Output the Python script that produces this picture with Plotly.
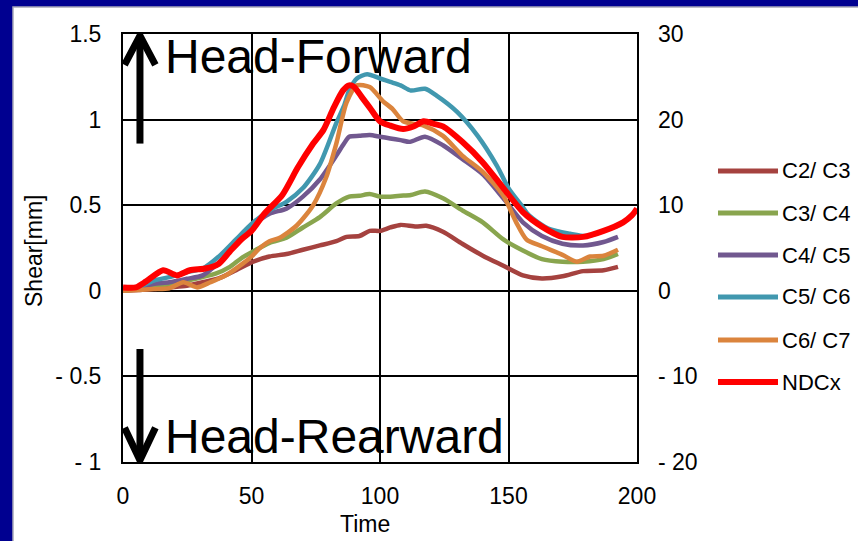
import plotly.graph_objects as go

# ---- data -------------------------------------------------------------
c23_t = [0, 6, 12, 18, 24.8, 31, 37.7, 44, 50.6, 57, 63.6, 70, 76.6, 83, 87, 92, 96, 100, 104, 108,
         114, 118, 124.5, 132, 140, 148, 155.6, 163, 171, 179, 187, 192.6]
c23_v = [0, 0.005, 0.01, 0.02, 0.03, 0.05, 0.075, 0.12, 0.17, 0.2, 0.215, 0.24, 0.265, 0.29, 0.315, 0.32,
         0.35, 0.35, 0.37, 0.385, 0.375, 0.38, 0.345, 0.275, 0.205, 0.146, 0.09, 0.072, 0.085, 0.115, 0.12, 0.14]

c34_t = [0, 6, 12, 18, 25, 31, 36, 41.6, 46, 50.6, 57, 63.6, 70, 76.6, 83, 88, 92, 96, 100, 104, 108,
         112, 117.5, 124.5, 132, 140, 148, 155.6, 163, 171, 179, 187, 192.6]
c34_v = [0, 0.01, 0.025, 0.04, 0.06, 0.08, 0.1, 0.14, 0.19, 0.23, 0.28, 0.31, 0.37, 0.43, 0.51, 0.55,
         0.555, 0.565, 0.55, 0.55, 0.555, 0.56, 0.58, 0.54, 0.47, 0.4, 0.3, 0.235, 0.185, 0.17, 0.17, 0.185, 0.215]

c45_t = [0, 6, 11.8, 18, 24.8, 31, 37.7, 44, 50.6, 57, 63.6, 70, 76.6, 83, 86, 88, 92, 96, 100, 104,
         108, 111.7, 117.5, 124.5, 132, 140, 148, 155.6, 163, 171, 179, 187, 192.6]
c45_v = [0.01, 0.02, 0.04, 0.05, 0.07, 0.09, 0.17, 0.27, 0.38, 0.45, 0.48, 0.55, 0.65, 0.79, 0.86, 0.9,
         0.905, 0.91, 0.9, 0.89, 0.88, 0.87, 0.9, 0.85, 0.77, 0.68, 0.54, 0.4, 0.32, 0.275, 0.265, 0.285, 0.315]

c56_t = [0, 6, 12, 18, 25, 31, 38, 44, 50, 57, 63.6, 70, 76.6, 83, 86, 88, 91, 95, 100, 104, 108, 112,
         117.5, 122, 130, 138, 145.5, 150, 155, 158, 166, 174, 180.5, 187, 192.6]
c56_v = [0.015, 0.02, 0.06, 0.08, 0.11, 0.13, 0.21, 0.3, 0.39, 0.47, 0.52, 0.6, 0.74, 0.98, 1.08, 1.17,
         1.24, 1.265, 1.24, 1.22, 1.2, 1.17, 1.18, 1.14, 1.045, 0.905, 0.73, 0.6, 0.5, 0.44, 0.36, 0.333,
         0.32, 0.35, 0.38]

c67_t = [0, 6, 12, 18, 23.5, 28.8, 34, 40, 46.7, 50, 53.3, 57, 61, 67.5, 74, 79, 83, 87, 91, 96, 101,
         105, 109, 117, 124.5, 132, 140, 148, 153, 157, 163, 171, 176.6, 181.7, 187, 192.6]
c67_v = [0, 0.005, 0.01, 0.015, 0.05, 0.02, 0.05, 0.09, 0.16, 0.2, 0.25, 0.29, 0.31, 0.38, 0.5, 0.66,
         0.86, 1.1, 1.2, 1.19, 1.11, 1.06, 0.99, 0.965, 0.905, 0.79, 0.695, 0.555, 0.4, 0.3, 0.26, 0.21,
         0.17, 0.2, 0.205, 0.24]

ndc_t = [0, 5, 9, 15.6, 21, 26, 32, 37, 41.6, 46, 50, 55, 62, 68, 74, 78, 82, 85.6, 88, 90, 93, 96,
         100, 104, 109, 113, 117, 121, 124.5, 132, 140, 148, 155.6, 163, 171, 179, 187, 194.6, 198, 200]
ndc_v = [0.4, 0.4, 1.1, 2.4, 1.8, 2.4, 2.6, 3.1, 4.6, 6.0, 7.0, 9.0, 11.2, 14.4, 17.2, 18.8, 21.4, 23.4,
         24.0, 23.8, 22.6, 21.4, 19.8, 19.3, 18.9, 19.2, 19.8, 19.5, 19.2, 17.4, 15.0, 12.0, 9.2, 7.5,
         6.3, 6.3, 7.0, 8.0, 8.8, 9.6]

names = ["C2/ C3", "C3/ C4", "C4/ C5", "C5/ C6", "C6/ C7", "NDCx"]
colors = ["#A5423F", "#89A54E", "#71588F", "#4198AF", "#DB843D", "#FF0000"]

left_ticks = [-1, -0.5, 0, 0.5, 1, 1.5]
left_text = ["- 1", "- 0.5", "0", "0.5", "1", "1.5"]
right_ticks = [-20, -10, 0, 10, 20, 30]
right_text = ["- 20", "- 10", "0", "10", "20", "30"]
x_ticks = [0, 50, 100, 150, 200]

FONT = "Arial, Liberation Sans, sans-serif"
TICK_SIZE = 23

# ---- figure -----------------------------------------------------------
fig = go.Figure()
series = [(c23_t, c23_v), (c34_t, c34_v), (c45_t, c45_v), (c56_t, c56_v), (c67_t, c67_v)]
for (t, v), name, col in zip(series, names[:5], colors[:5]):
    fig.add_trace(go.Scatter(x=t, y=v, mode="lines", name=name,
                             line=dict(color=col, width=4.5, shape="spline", smoothing=0.7),
                             showlegend=False))
fig.add_trace(go.Scatter(x=ndc_t, y=ndc_v, mode="lines", name=names[5], yaxis="y2",
                         line=dict(color=colors[5], width=6, shape="spline", smoothing=0.7),
                         showlegend=False))

W, H = 858, 541
L, R, T, B = 123, 637, 34, 462


def px(x):
    return (x - L) / (R - L)


def py(y):
    return (B - y) / (B - T)


shapes = []
# slide panel: navy frame around a white sheet
shapes.append(dict(type="rect", xref="paper", yref="paper", x0=px(13), x1=px(870), y0=py(560), y1=py(7),
                   fillcolor="white", line=dict(color="#A8A8B8", width=1.5), layer="below"))

# direction arrows
ax = 6.6
shapes.append(dict(type="line", xref="x", yref="y", x0=ax, x1=ax, y0=0.86, y1=1.48,
                   line=dict(color="black", width=7)))
shapes.append(dict(type="path", xref="x", yref="y",
                   path=f"M 0.6,1.32 L {ax},1.49 L 12.6,1.32",
                   line=dict(color="black", width=7)))
shapes.append(dict(type="line", xref="x", yref="y", x0=ax, x1=ax, y0=-0.34, y1=-0.98,
                   line=dict(color="black", width=7)))
shapes.append(dict(type="path", xref="x", yref="y",
                   path=f"M 0.6,-0.8 L {ax},-0.99 L 12.6,-0.8",
                   line=dict(color="black", width=7)))

annotations = [
    dict(text="Head-Forward", xref="paper", yref="paper", x=px(163), y=py(57), xanchor="left",
         yanchor="middle", showarrow=False, font=dict(family=FONT, size=48, color="black")),
    dict(text="Head-Rearward", xref="paper", yref="paper", x=px(163), y=py(436), xanchor="left",
         yanchor="middle", showarrow=False, font=dict(family=FONT, size=48, color="black")),
    dict(text="Time", xref="paper", yref="paper", x=px(365), y=py(524), xanchor="center",
         yanchor="middle", showarrow=False, font=dict(family=FONT, size=23, color="black")),
    dict(text="Shear[mm]", xref="paper", yref="paper", x=px(34), y=py(251), xanchor="center",
         yanchor="middle", textangle=-90, showarrow=False,
         font=dict(family=FONT, size=23, color="black")),
]

# legend: line sample + label per series
leg_y = [171, 213, 255, 297, 340, 382]
for name, col, yy in zip(names, colors, leg_y):
    shapes.append(dict(type="line", xref="paper", yref="paper", x0=px(718), x1=px(778),
                       y0=py(yy), y1=py(yy),
                       line=dict(color=col, width=6 if name == "NDCx" else 5)))
    annotations.append(dict(text=name, xref="paper", yref="paper", x=px(780), y=py(yy),
                            xanchor="left", yanchor="middle", showarrow=False,
                            font=dict(family=FONT, size=22, color="black")))

fig.update_layout(
    width=W, height=H,
    margin=dict(l=L, r=W - R, t=T, b=H - B, pad=0),
    paper_bgcolor="#000090",
    plot_bgcolor="white",
    font=dict(family=FONT, size=TICK_SIZE, color="black"),
    xaxis=dict(range=[0, 200], tickvals=x_ticks, showgrid=True, gridcolor="black", gridwidth=2,
               showline=True, linecolor="black", linewidth=2, mirror=True, zeroline=False,
               ticks="", ticklabelstandoff=12, tickfont=dict(size=TICK_SIZE)),
    yaxis=dict(range=[-1, 1.5], tickvals=left_ticks, ticktext=left_text, showgrid=True,
               gridcolor="black", gridwidth=2, showline=True, linecolor="black", linewidth=2,
               mirror=True, zeroline=False, ticks="", ticklabelstandoff=15,
               tickfont=dict(size=TICK_SIZE)),
    yaxis2=dict(range=[-20, 30], tickvals=right_ticks, ticktext=right_text, overlaying="y",
                side="right", showgrid=False, zeroline=False, showline=False, ticks="",
                ticklabelstandoff=20, tickfont=dict(size=TICK_SIZE)),
    shapes=shapes,
    annotations=annotations,
    showlegend=False,
)

fig.write_html("out.html")
